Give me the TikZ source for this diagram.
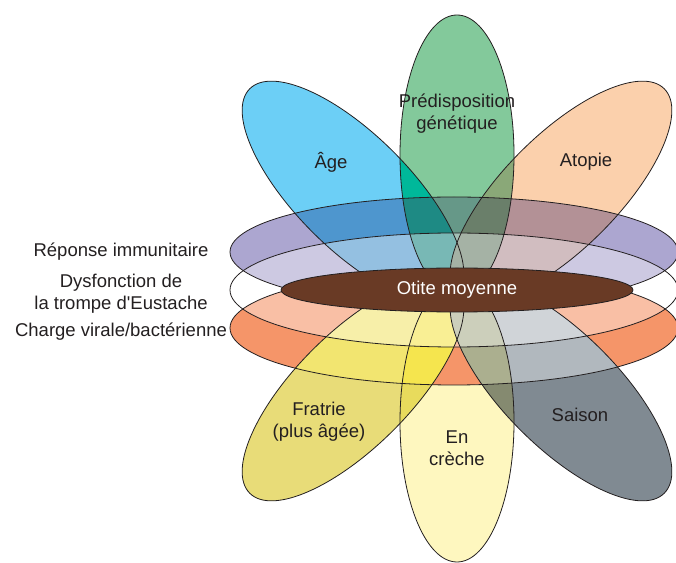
\documentclass[tikz,border=0pt]{standalone}
\usepackage{fontspec}
\setmainfont{Liberation Sans}

\definecolor{trait}{HTML}{231F20}
\definecolor{cPurple}{HTML}{ACA6D0}
\definecolor{cOrange}{HTML}{F59569}
\definecolor{cAge}{HTML}{6CCFF6}
\definecolor{cGen}{HTML}{83C99B}
\definecolor{cAto}{HTML}{FBD0AC}
\definecolor{cFrat}{HTML}{E8DC78}
\definecolor{cCreche}{HTML}{FEF7BF}
\definecolor{cSais}{HTML}{808A92}
\definecolor{cAG}{HTML}{00B89A}
\definecolor{cGT}{HTML}{8AA878}
\definecolor{cPA}{HTML}{4E96CE}
\definecolor{cPG}{HTML}{669888}
\definecolor{cPT}{HTML}{B39196}
\definecolor{cPAG}{HTML}{1E8A84}
\definecolor{cPGT}{HTML}{6A7F6A}
\definecolor{cOF}{HTML}{F2E570}
\definecolor{cOS}{HTML}{B1B8BE}
\definecolor{cFC}{HTML}{E8DB5C}
\definecolor{cCS}{HTML}{858A70}
\definecolor{cOFC}{HTML}{F5E54E}
\definecolor{cOCS}{HTML}{ABAF8F}
\definecolor{cBrun}{HTML}{693A25}

% les ellipses
\newcommand{\ovP}{(454,310) ellipse [x radius=224, y radius=55]}
\newcommand{\ovW}{(454,272) ellipse [x radius=224, y radius=57]}
\newcommand{\ovO}{(454,234) ellipse [x radius=224, y radius=57]}
\newcommand{\ovB}{(457,272) ellipse [x radius=176, y radius=22]}
\newcommand{\ovG}{(457,407) ellipse [x radius=57, y radius=140]}
\newcommand{\ovC}{(457,140) ellipse [x radius=57, y radius=140]}
\newcommand{\ovA}{(353,370) ellipse [x radius=146, y radius=57, rotate=-45]}
\newcommand{\ovT}{(561,370) ellipse [x radius=146, y radius=57, rotate=45]}
\newcommand{\ovF}{(353,172) ellipse [x radius=146, y radius=57, rotate=45]}
\newcommand{\ovS}{(561,172) ellipse [x radius=146, y radius=57, rotate=-45]}
% intersections
\newcommand{\zone}[3]{\begin{scope}\clip #1; \fill[#3] #2; \end{scope}}
\newcommand{\zonex}[4]{\begin{scope}\clip #1; \clip #2; \fill[#4] #3; \end{scope}}

\begin{document}
\begin{tikzpicture}[line cap=round,line join=round,x=1pt,y=1pt,
	contour/.style={draw=trait, line width=0.8pt},
	etiq/.style={text=trait, font=\fontsize{18.5}{22}\selectfont, align=center, inner sep=0pt}]
		\useasboundingbox (0,0) rectangle (676,562);
		% fonds
		\fill[cCreche] \ovC;
		\fill[cPurple] \ovP;
		\fill[cOrange] \ovO;
		\fill[cAge] \ovA;
		\fill[cGen] \ovG;
		\fill[cAto] \ovT;
		\fill[cFrat] \ovF;
		\fill[cSais] \ovS;
		% recouvrements du haut
		\zone{\ovA}{\ovG}{cAG}
		\zone{\ovG}{\ovT}{cGT}
		\zone{\ovP}{\ovA}{cPA}
		\zone{\ovP}{\ovG}{cPG}
		\zone{\ovP}{\ovT}{cPT}
		\zonex{\ovP}{\ovA}{\ovG}{cPAG}
		\zonex{\ovP}{\ovG}{\ovT}{cPGT}
		% recouvrements du bas
		\zone{\ovO}{\ovF}{cOF}
		\zone{\ovO}{\ovS}{cOS}
		\zone{\ovF}{\ovC}{cFC}
		\zone{\ovC}{\ovS}{cCS}
		\zonex{\ovO}{\ovF}{\ovC}{cOFC}
		\zonex{\ovO}{\ovC}{\ovS}{cOCS}
		% trompe d'Eustache
		\fill[white, fill opacity=0.4] \ovW;
		% contours
		\draw[contour] \ovP;
		\draw[contour] \ovW;
		\draw[contour] \ovO;
		\draw[contour] \ovA;
		\draw[contour] \ovG;
		\draw[contour] \ovT;
		\draw[contour] \ovF;
		\draw[contour] \ovC;
		\draw[contour] \ovS;
		% centre
		\fill[cBrun] \ovB;
		\draw[contour] \ovB;
		% textes
		\node[etiq, text=white] (otite) at (457,272) {Otite moyenne};
		\node[etiq] (genet) at (457,448) {Prédisposition\\génétique};
		\node[etiq] (age) at (331,400) {Âge};
		\node[etiq] (atopie) at (586,400) {Atopie};
		\node[etiq] (fratrie) at (319,140) {Fratrie\\(plus âgée)};
		\node[etiq] (creche) at (457,114) {En\\crèche};
		\node[etiq] (saison) at (580,147) {Saison};
		\node[etiq] (immun) at (121,310) {Réponse immunitaire};
		\node[etiq] (dysf) at (121,268) {Dysfonction de\\la trompe d\textquotesingle Eustache};
		\node[etiq] (charge) at (121,230) {Charge virale/bactérienne};
\end{tikzpicture}
\end{document}
